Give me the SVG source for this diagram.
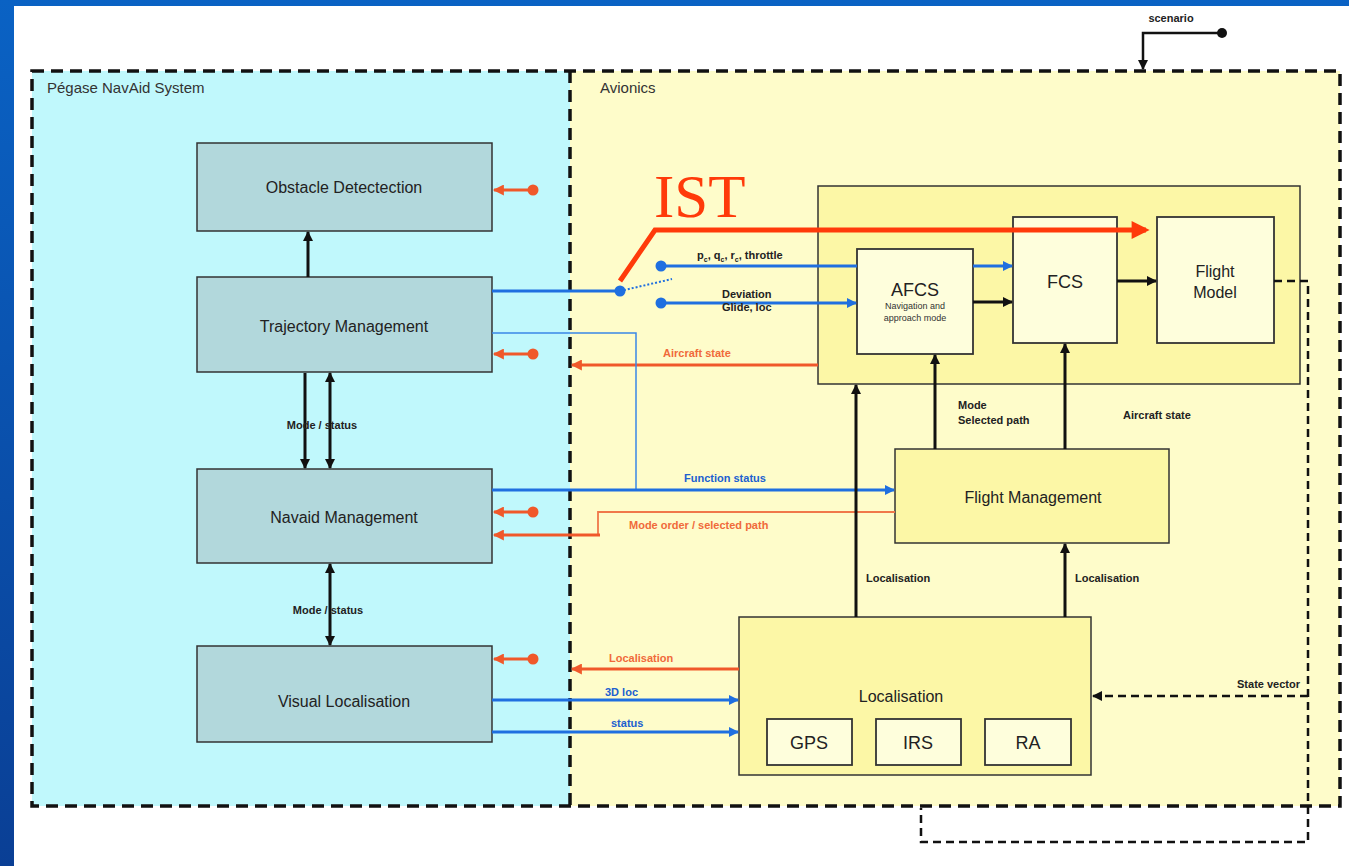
<svg xmlns="http://www.w3.org/2000/svg" width="1349" height="866" viewBox="0 0 1349 866">
  <defs>
    <linearGradient id="frameGrad" x1="0" y1="0" x2="0" y2="1">
      <stop offset="0" stop-color="#0a62c4"/>
      <stop offset="1" stop-color="#0a3f95"/>
    </linearGradient>
    <marker id="arrBlack" viewBox="0 0 10 10" refX="9" refY="5" markerWidth="10" markerHeight="10" markerUnits="userSpaceOnUse" orient="auto-start-reverse">
      <path d="M0,0 L10,5 L0,10 z" fill="#111"/>
    </marker>
    <marker id="arrBlue" viewBox="0 0 10 10" refX="9" refY="5" markerWidth="11" markerHeight="10" markerUnits="userSpaceOnUse" orient="auto">
      <path d="M0,0 L10,5 L0,10 z" fill="#1f6fe0"/>
    </marker>
    <marker id="arrOrange" viewBox="0 0 10 10" refX="9" refY="5" markerWidth="12" markerHeight="11" markerUnits="userSpaceOnUse" orient="auto">
      <path d="M0,0 L10,5 L0,10 z" fill="#f0582a"/>
    </marker>
    <marker id="arrRed" viewBox="0 0 10 10" refX="8" refY="5" markerWidth="22" markerHeight="18" markerUnits="userSpaceOnUse" orient="auto">
      <path d="M0,0 L10,5 L0,10 z" fill="#ff3a0a"/>
    </marker>
    <style>
      .region { stroke: #111; stroke-width: 3.5; stroke-dasharray: 12 7; }
      .title { font-family: "Liberation Sans", Arial, sans-serif; font-size: 15px; fill: #333; }
      .navbox { fill: #b2d8dc; stroke: #333; stroke-width: 1.5; }
      .ybox { fill: #fcf7a6; stroke: #333; stroke-width: 1.5; }
      .pbox { fill: #fefedc; stroke: #333; stroke-width: 1.8; }
      .lbl { font-family: "Liberation Sans", Arial, sans-serif; font-size: 16px; fill: #222; text-anchor: middle; }
      .big { font-family: "Liberation Sans", Arial, sans-serif; font-size: 18px; fill: #222; text-anchor: middle; }
      .small { font-family: "Liberation Sans", Arial, sans-serif; font-size: 11px; font-weight: bold; fill: #222; }
      .sblue { font-family: "Liberation Sans", Arial, sans-serif; font-size: 11px; font-weight: bold; fill: #2060d0; }
      .sorange { font-family: "Liberation Sans", Arial, sans-serif; font-size: 11px; font-weight: bold; fill: #f06a3a; }
      .tiny { font-family: "Liberation Sans", Arial, sans-serif; font-size: 9px; fill: #333; text-anchor: middle; }
      .blk { stroke: #111; stroke-width: 3; fill: none; }
      .blue { stroke: #1f6fe0; stroke-width: 3; fill: none; }
      .thinblue { stroke: #3a86e6; stroke-width: 1.5; fill: none; }
      .orange { stroke: #f0582a; stroke-width: 3; fill: none; }
      .thinorange { stroke: #f0784a; stroke-width: 1.8; fill: none; }
      .dash { stroke: #111; stroke-width: 2.5; stroke-dasharray: 8 5; fill: none; }
    </style>
  </defs>

  <!-- slide frame -->
  <rect x="0" y="0" width="1349" height="866" fill="url(#frameGrad)"/>
  <rect x="14" y="6" width="1335" height="860" fill="#ffffff"/>

  <!-- system regions -->
  <g id="region-navaid">
    <rect x="32" y="71" width="538" height="735" fill="#c0f8fc"/>
    <text class="title" x="47" y="93">Pégase NavAid System</text>
  </g>
  <g id="region-avionics">
    <rect x="570" y="71" width="770" height="735" fill="#fefcca"/>
    <text class="title" x="600" y="93">Avionics</text>
  </g>
  <g id="region-borders">
    <path class="region" fill="none" d="M32,71 H1340 V806 H32 Z"/>
    <path class="region" fill="none" d="M570,71 V806"/>
  </g>

  <!-- NavAid nodes -->
  <g id="obstacle-detection">
    <rect class="navbox" x="197" y="143" width="295" height="88"/>
    <text class="lbl" x="344" y="193">Obstacle Detectection</text>
  </g>
  <g id="trajectory-management">
    <rect class="navbox" x="197" y="277" width="295" height="95"/>
    <text class="lbl" x="344" y="332">Trajectory Management</text>
  </g>
  <g id="navaid-management">
    <rect class="navbox" x="197" y="469" width="295" height="94"/>
    <text class="lbl" x="344" y="523">Navaid Management</text>
  </g>
  <g id="visual-localisation">
    <rect class="navbox" x="197" y="646" width="295" height="96"/>
    <text class="lbl" x="344" y="707">Visual Localisation</text>
  </g>

  <!-- Avionics nodes -->
  <g id="flight-control-block">
    <rect class="ybox" x="818" y="186" width="482" height="198"/>
  </g>
  <g id="afcs">
    <rect class="pbox" x="857" y="249" width="116" height="105"/>
    <text class="big" x="915" y="296">AFCS</text>
    <text class="tiny" x="915" y="309">Navigation and</text>
    <text class="tiny" x="915" y="321">approach mode</text>
  </g>
  <g id="fcs">
    <rect class="pbox" x="1013" y="217" width="104" height="126"/>
    <text class="big" x="1065" y="288">FCS</text>
  </g>
  <g id="flight-model">
    <rect class="pbox" x="1157" y="217" width="117" height="126"/>
    <text class="lbl" x="1215" y="277">Flight</text>
    <text class="lbl" x="1215" y="298">Model</text>
  </g>
  <g id="flight-management">
    <rect class="ybox" x="895" y="449" width="274" height="94"/>
    <text class="lbl" x="1033" y="503">Flight Management</text>
  </g>
  <g id="localisation">
    <rect class="ybox" x="739" y="617" width="352" height="158"/>
    <text class="lbl" x="901" y="702">Localisation</text>
    <rect class="pbox" x="767" y="719" width="85" height="46"/>
    <text class="big" x="809" y="749">GPS</text>
    <rect class="pbox" x="876" y="719" width="85" height="46"/>
    <text class="big" x="918" y="749">IRS</text>
    <rect class="pbox" x="985" y="719" width="86" height="46"/>
    <text class="big" x="1028" y="749">RA</text>
  </g>

  <!-- connectors -->
  <g id="connectors">
    <!-- NavAid internal links -->
    <path class="blk" d="M308,277 V232" marker-end="url(#arrBlack)"/>
    <path class="blk" d="M305,373 V468" marker-end="url(#arrBlack)"/>
    <path class="blk" d="M330,373 V468" marker-start="url(#arrBlack)" marker-end="url(#arrBlack)"/>
    <text class="small" x="322" y="429" text-anchor="middle">Mode / status</text>
    <path class="blk" d="M330,564 V645" marker-start="url(#arrBlack)" marker-end="url(#arrBlack)"/>
    <text class="small" x="328" y="614" text-anchor="middle">Mode / status</text>

    <!-- external inputs to NavAid nodes -->
    <g>
      <path class="orange" d="M533,190 H494" marker-end="url(#arrOrange)"/>
      <circle cx="533" cy="190" r="5.5" fill="#f0582a"/>
      <path class="orange" d="M533,354 H494" marker-end="url(#arrOrange)"/>
      <circle cx="533" cy="354" r="5.5" fill="#f0582a"/>
      <path class="orange" d="M533,512 H494" marker-end="url(#arrOrange)"/>
      <circle cx="533" cy="512" r="5.5" fill="#f0582a"/>
      <path class="orange" d="M533,659 H494" marker-end="url(#arrOrange)"/>
      <circle cx="533" cy="659" r="5.5" fill="#f0582a"/>
    </g>

    <!-- guidance switch -->
    <path class="blue" d="M492,291 H620"/>
    <circle cx="620" cy="291" r="5.5" fill="#1f6fe0"/>
    <path d="M620,291 L672,279" stroke="#1f6fe0" stroke-width="2" stroke-dasharray="2 2" fill="none"/>
    <circle cx="661" cy="266" r="5.5" fill="#1f6fe0"/>
    <path class="blue" d="M661,266 H857"/>
    <circle cx="661" cy="303" r="5.5" fill="#1f6fe0"/>
    <path class="blue" d="M661,303 H856" marker-end="url(#arrBlue)"/>
    <text class="small" x="697" y="259">p<tspan font-size="7" dy="3">c</tspan><tspan dy="-3">, q</tspan><tspan font-size="7" dy="3">c</tspan><tspan dy="-3">, r</tspan><tspan font-size="7" dy="3">c</tspan><tspan dy="-3">, throttle</tspan></text>
    <text class="small" x="722" y="298">Deviation</text>
    <text class="small" x="722" y="311">Glide, loc</text>

    <!-- control chain -->
    <path class="blue" d="M973,266 H1012" marker-end="url(#arrBlue)"/>
    <path class="blk" d="M973,302 H1012" marker-end="url(#arrBlack)"/>
    <path class="blk" d="M1117,281 H1156" marker-end="url(#arrBlack)"/>

    <!-- aircraft state back to NavAid -->
    <path class="orange" d="M818,365 H572" marker-end="url(#arrOrange)"/>
    <text class="sorange" x="663" y="357">Aircraft state</text>

    <!-- function status -->
    <path class="thinblue" d="M492,333 H636 V490"/>
    <path class="blue" d="M492,490 H894" marker-end="url(#arrBlue)"/>
    <text class="sblue" x="684" y="482">Function status</text>

    <!-- mode order -->
    <path class="thinorange" d="M895,512 H598 V535"/>
    <path class="orange" d="M600,535 H494" marker-end="url(#arrOrange)"/>
    <text class="sorange" x="629" y="529">Mode order / selected path</text>

    <!-- Flight Management upward links -->
    <path class="blk" d="M935,449 V355" marker-end="url(#arrBlack)"/>
    <text class="small" x="958" y="409">Mode</text>
    <text class="small" x="958" y="424">Selected path</text>
    <path class="blk" d="M1065,449 V344" marker-end="url(#arrBlack)"/>
    <text class="small" x="1123" y="419">Aircraft state</text>

    <!-- Localisation upward links -->
    <path class="blk" d="M856,617 V385" marker-end="url(#arrBlack)"/>
    <text class="small" x="866" y="582">Localisation</text>
    <path class="blk" d="M1065,617 V544" marker-end="url(#arrBlack)"/>
    <text class="small" x="1075" y="582">Localisation</text>

    <!-- Visual Localisation exchanges -->
    <path class="orange" d="M739,669 H572" marker-end="url(#arrOrange)"/>
    <text class="sorange" x="609" y="662">Localisation</text>
    <path class="blue" d="M492,700 H738" marker-end="url(#arrBlue)"/>
    <text class="sblue" x="605" y="696">3D loc</text>
    <path class="blue" d="M492,732 H738" marker-end="url(#arrBlue)"/>
    <text class="sblue" x="611" y="727">status</text>

    <!-- state vector loop -->
    <path class="dash" d="M1274,281 H1308 V842 H921 V808"/>
    <path class="dash" d="M1308,696 H1093" marker-end="url(#arrBlack)"/>
    <text class="small" x="1300" y="688" text-anchor="end" font-size="10">State vector</text>

    <!-- scenario input -->
    <text class="small" x="1171" y="22" text-anchor="middle" font-size="9">scenario</text>
    <circle cx="1222" cy="33" r="5" fill="#111"/>
    <path d="M1222,33 H1143 V69" stroke="#111" stroke-width="2.5" fill="none" marker-end="url(#arrBlack)"/>

    <!-- IST path -->
    <path d="M620,281 L655,230 H1146" stroke="#ff3a0a" stroke-width="5" fill="none" stroke-linejoin="miter" marker-end="url(#arrRed)"/>
    <text x="654" y="217" font-family="Liberation Serif, 'Times New Roman', serif" font-size="61" fill="#ff3a0a">IST</text>
  </g>
</svg>
